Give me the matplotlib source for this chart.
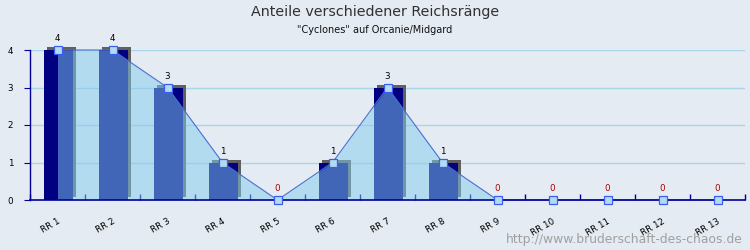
import matplotlib
matplotlib.use("Agg")
import matplotlib.pyplot as plt
from matplotlib.transforms import ScaledTranslation
import numpy as np

categories = ["RR 1", "RR 2", "RR 3", "RR 4", "RR 5", "RR 6", "RR 7",
              "RR 8", "RR 9", "RR 10", "RR 11", "RR 12", "RR 13"]
values = [4, 4, 3, 1, 0, 1, 3, 1, 0, 0, 0, 0, 0]
title = "Anteile verschiedener Reichsränge"
subtitle = "\"Cyclones\" auf Orcanie/Midgard"
watermark = "http://www.bruderschaft-des-chaos.de"

bg = "#e5ebf2"
fig = plt.figure(figsize=(7.5, 2.5), dpi=100, facecolor=bg)
ax = fig.add_axes([30/750, 50/250, 715/750, 150/250])
ax.set_facecolor(bg)

x = np.arange(len(categories)) + 0.5
ax.set_xlim(0, len(categories))
ax.set_ylim(0, 4)

# grid
for yv in [1, 2, 3, 4]:
    ax.axhline(yv, color="#a9d6e6", lw=1, zorder=0.5)

bw = 29/55
shadow = ScaledTranslation(3/100, 3/100, fig.dpi_scale_trans)
for xi, v in zip(x, values):
    if v > 0:
        r = plt.Rectangle((xi - bw/2 + 0.01, 0), bw, v, facecolor="#606060",
                          edgecolor="none", zorder=1, clip_on=False,
                          transform=ax.transData + shadow)
        ax.add_patch(r)
bars = ax.bar(x + 0.01, values, width=bw, color="#000080", zorder=2, linewidth=0)
for b in bars:
    b.set_clip_on(False)

# area
poly = ax.fill_between(x, values, 0, color="#82ccf0", alpha=0.5, lw=0, zorder=3)
poly.set_clip_on(False)
ax.plot(x, values, color="#4a6fd0", lw=0.8, zorder=4, clip_on=False)
ax.plot(x, values, ls="none", marker="s", ms=5.4, mfc="#b4daf2",
        mec="#3a5ef0", mew=0.9, zorder=8, clip_on=False)

for xi, v in zip(x, values):
    ax.annotate(str(v), (xi, v), xytext=(0, 5), textcoords="offset points",
                ha="center", va="bottom", fontsize=6.3,
                color="#000000" if v > 0 else "#aa0000", zorder=9)

for s in ["top", "right"]:
    ax.spines[s].set_visible(False)
ax.spines["left"].set_color("#000099")
ax.spines["bottom"].set_color("#000099")
ax.spines["left"].set_linewidth(1)
ax.spines["bottom"].set_linewidth(1.2)
ax.spines["bottom"].set_zorder(7)

ax.set_yticks([0, 1, 2, 3, 4])
ax.set_yticklabels(["0", "1", "2", "3", "4"], fontsize=6.3)
ax.tick_params(axis="y", direction="out", length=4, color="#000099", pad=8)

ax.set_xticks(np.arange(0, len(categories) + 1), minor=False)
ax.set_xticklabels([])
ax.tick_params(axis="x", which="major", direction="in", length=4, color="#000099", width=1)
ax.set_xticks(x, minor=True)
ax.set_xticklabels(categories, minor=True, fontsize=6.3, rotation=30,
                   ha="right", rotation_mode="anchor")
ax.tick_params(axis="x", which="minor", length=0, pad=12)

fig.text(0.5, 1 - 12/250, title, ha="center", va="center", fontsize=10.3,
         color="#303030")
fig.text(0.5, 1 - 30/250, subtitle, ha="center", va="center", fontsize=7,
         color="#111111")
fig.text(743/750, 1 - 239/250, watermark, ha="right", va="center",
         fontsize=8.9, color="#a0a0a0")

fig.savefig("out.png", dpi=100, facecolor=bg)
